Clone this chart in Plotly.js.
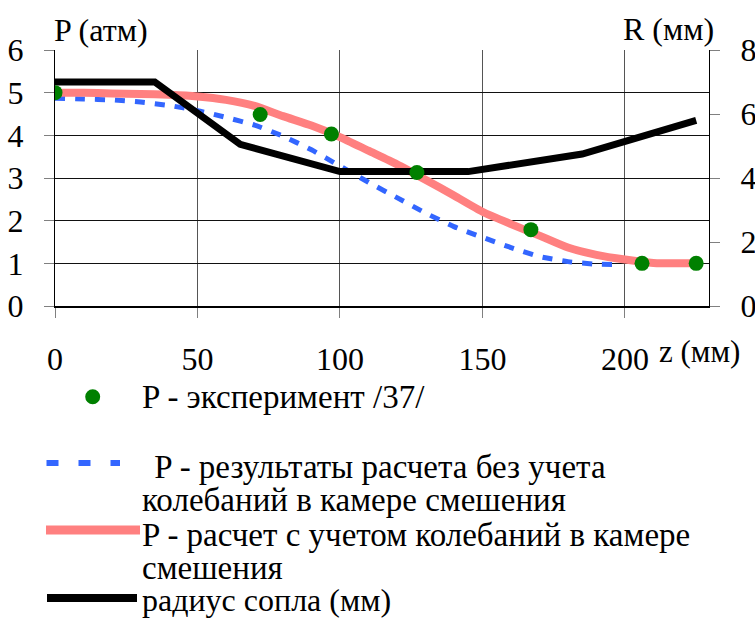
<!DOCTYPE html>
<html>
<head>
<meta charset="utf-8">
<script src="https://cdn.plot.ly/plotly-3.0.1.min.js"></script>
<style>
  html, body { margin: 0; padding: 0; background: #fff; font-family: 'Liberation Serif', serif; }
  #chart { width: 755px; height: 619px; }
</style>
</head>
<body>
<div id="chart"></div>
<script>
// Nozzle axis coordinate z (mm) and measured / computed pressures P (atm)
const zExp = [0, 72, 97, 127, 167, 206, 225];
const pExp = [5.0, 4.49, 4.03, 3.13, 1.79, 1.0, 1.0];

const zCalc = [0, 10, 20, 30, 40, 50, 60, 70, 80, 90, 100, 110, 120, 130, 140, 150, 160, 170, 180, 190, 199];
const pCalc = [4.87, 4.85, 4.83, 4.78, 4.70, 4.58, 4.42, 4.24, 3.98, 3.66, 3.28, 2.90, 2.54, 2.18, 1.86, 1.61, 1.37, 1.16, 1.04, 0.98, 0.97];

const zOsc = [0, 10, 20, 30, 40, 50, 60, 70, 80, 90, 100, 110, 120, 130, 140, 150, 160, 170, 180, 190, 200, 210, 220, 225];
const pOsc = [5.0, 5.0, 4.98, 4.97, 4.95, 4.91, 4.83, 4.69, 4.45, 4.23, 3.96, 3.64, 3.32, 2.96, 2.59, 2.21, 1.92, 1.65, 1.37, 1.20, 1.09, 1.01, 1.0, 1.0];

// Nozzle radius R (mm)
const zNoz = [0, 35, 65, 100, 145, 185, 225];
const rNoz = [7.0, 7.0, 5.05, 4.2, 4.2, 4.75, 5.8];

const zTicks = [0, 50, 100, 150, 200];

const legendLabels = [
  'P - эксперимент /37/',
  ' P - результаты расчета без учета',
  'колебаний в камере смешения',
  'P - расчет с учетом колебаний в камере',
  'смешения',
  'радиус сопла (мм)'
];

const FONT = 'Liberation Serif, serif';
const W = 755, H = 619;
const M = { l: 55, r: 46, t: 50, b: 313 };

// pixel -> paper helpers for the hand-placed legend and titles
const pw = W - M.l - M.r, ph = H - M.t - M.b;
const px = x => (x - M.l) / pw;
const py = y => (H - M.b - y) / ph;

const COLORS = { exp: '#008000', calc: '#3366FF', osc: '#FF8080', noz: '#000000' };

const traces = [
  { x: zCalc, y: pCalc, yaxis: 'y', mode: 'lines', name: legendLabels[1],
    line: { color: COLORS.calc, width: 5, dash: '10px,10px', shape: 'spline', smoothing: 0.6 } },
  { x: zOsc, y: pOsc, yaxis: 'y', mode: 'lines', name: legendLabels[3],
    line: { color: COLORS.osc, width: 8, shape: 'spline', smoothing: 0.6 } },
  { x: zNoz, y: rNoz, yaxis: 'y2', mode: 'lines', name: legendLabels[5],
    line: { color: COLORS.noz, width: 7 } },
  { x: zExp, y: pExp, yaxis: 'y3', mode: 'markers', name: legendLabels[0],
    marker: { color: COLORS.exp, size: 15 } }
];

function label(text, xLeft, yMid, size) {
  return { text: text, xref: 'paper', yref: 'paper', x: px(xLeft), y: py(yMid),
    xanchor: 'left', yanchor: 'middle', showarrow: false,
    font: { family: FONT, size: size || 33, color: '#000' } };
}

const annotations = [
  { text: 'P (атм)', xref: 'paper', yref: 'paper', x: px(52), y: py(30),
    xanchor: 'left', yanchor: 'middle', showarrow: false, font: { family: FONT, size: 32, color: '#000' } },
  { text: 'R (мм)', xref: 'paper', yref: 'paper', x: px(716), y: py(29),
    xanchor: 'right', yanchor: 'middle', showarrow: false, font: { family: FONT, size: 32, color: '#000' } },
  { text: 'z (мм)', xref: 'paper', yref: 'paper', x: px(657), y: py(351),
    xanchor: 'left', yanchor: 'middle', showarrow: false, font: { family: FONT, size: 31, color: '#000' } },
  label(legendLabels[0], 140, 397),
  label(legendLabels[1], 144, 467),
  label(legendLabels[2], 140, 500),
  label(legendLabels[3], 140, 535),
  label(legendLabels[4], 140, 568),
  label(legendLabels[5], 140, 600, 32)
];

const shapes = [
  // legend samples
  { type: 'circle', xref: 'paper', yref: 'paper',
    x0: px(85.2), x1: px(100.2), y0: py(389.2), y1: py(404.2),
    fillcolor: COLORS.exp, line: { width: 0 } },
  { type: 'line', xref: 'paper', yref: 'paper', x0: px(46.5), x1: px(120), y0: py(463), y1: py(463),
    line: { color: COLORS.calc, width: 6, dash: '12px,20px' } },
  { type: 'line', xref: 'paper', yref: 'paper', x0: px(46), x1: px(140), y0: py(530), y1: py(530),
    line: { color: COLORS.osc, width: 9 } },
  { type: 'line', xref: 'paper', yref: 'paper', x0: px(47), x1: px(137), y0: py(598), y1: py(598),
    line: { color: COLORS.noz, width: 8 } }
];

const tickFont = { family: FONT, size: 32, color: '#000' };

const layout = {
  width: W, height: H,
  margin: M,
  paper_bgcolor: '#fff', plot_bgcolor: '#fff',
  showlegend: false,
  xaxis: {
    range: [0, 229.5], tickvals: zTicks, ticktext: zTicks.map(String),
    showgrid: true, gridcolor: '#555', gridwidth: 1,
    zeroline: false, showline: true, linecolor: '#000', linewidth: 2,
    ticks: 'outside', ticklen: 10, tickcolor: '#808080', tickwidth: 1,
    tickfont: tickFont, ticklabelstandoff: 14
  },
  yaxis: {
    range: [0, 6], dtick: 1, tick0: 0,
    showgrid: true, gridcolor: '#111', gridwidth: 1,
    zeroline: false, showline: true, linecolor: '#000', linewidth: 1,
    ticks: 'outside', ticklen: 10, tickcolor: '#808080', tickwidth: 1,
    tickfont: tickFont, ticklabelstandoff: 14
  },
  yaxis2: {
    overlaying: 'y', side: 'right', range: [0, 8], dtick: 2, tick0: 0,
    showgrid: false, zeroline: false, showline: true, linecolor: '#000', linewidth: 1,
    ticks: 'outside', ticklen: 10, tickcolor: '#808080', tickwidth: 1,
    tickfont: tickFont, ticklabelstandoff: 14
  },
  yaxis3: {
    overlaying: 'y', range: [0, 6], visible: false
  },
  annotations: annotations,
  shapes: shapes
};

function draw() {
  Plotly.newPlot('chart', traces, layout, { displayModeBar: false });
}

// make sure the serif face is ready before the text is measured and drawn
if (document.fonts && document.fonts.load) {
  document.fonts.load('32px "Liberation Serif"', 'P (атм) 0123456789')
    .then(draw, draw);
} else {
  draw();
}
</script>
</body>
</html>
